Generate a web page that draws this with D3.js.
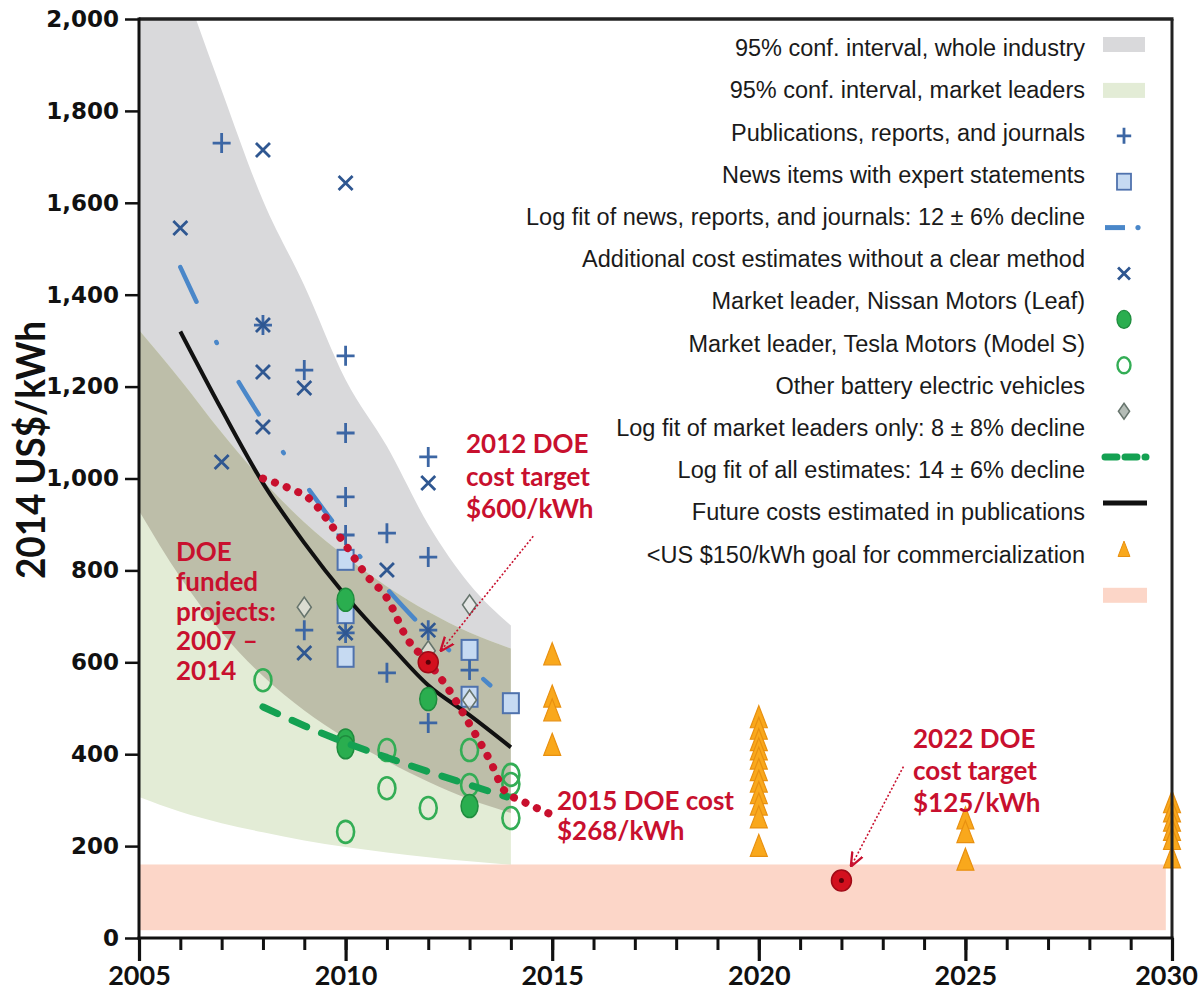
<!DOCTYPE html>
<html><head><meta charset="utf-8">
<script src="https://cdn.jsdelivr.net/npm/d3@7"></script>
<style>body{margin:0;background:#fff;} svg{display:block;}</style>
</head><body>
<svg id="c" width="1200" height="994"></svg>
<script>
// ---------- DATA ----------
const bandYears      = [2005, 2006, 2007, 2008, 2009, 2010, 2011, 2012, 2013, 2014];
const industryUpper  = [2400, 2100, 1845, 1605, 1420, 1215, 1070, 900, 770, 680];
const industryLower  = [930, 785, 665, 570, 495, 435, 385, 340, 302, 272];
const leadersUpper   = [1323, 1215, 1100, 995, 905, 830, 765, 710, 665, 630];
const leadersLower   = [307, 275, 250, 230, 212, 198, 186, 176, 167, 159];
const goalBand       = [17, 160];

const publications = [[2007,1730],[2008,1334],[2009,1236],[2009,670],[2010,1267],[2010,1099],[2010,960],[2010,877],[2010,664],[2011,881],[2011,577],[2012,1047],[2012,829],[2012,670],[2012,468],[2013,583]];
const additional   = [[2006,1545],[2007,1036],[2008,1715],[2008,1334],[2008,1232],[2008,1112],[2009,1197],[2009,620],[2010,1643],[2010,664],[2011,801],[2012,990],[2012,670]];
const newsItems    = [[2010,823],[2010,707],[2010,612],[2013,627],[2013,525],[2014,511]];
const nissan       = [[2010,736],[2010,430],[2010,415],[2012,520],[2013,287]];
const tesla        = [[2008,561],[2010,231],[2011,409],[2011,326],[2012,283],[2013,409],[2013,333],[2014,355],[2014,335],[2014,261]];
const otherBEV     = [[2009,720],[2012,625],[2013,725],[2013,518]];
const futureCosts  = [[2015,612],[2015,520],[2015,490],[2015,415],
  [2020,475],[2020,450],[2020,425],[2020,405],[2020,385],[2020,360],[2020,335],[2020,310],[2020,285],[2020,257],[2020,195],
  [2025,255],[2025,225],[2025,165],
  [2030,290],[2030,270],[2030,250],[2030,230],[2030,210],[2030,170]];

const newsFit    = [[2006,1460],[2007,1275],[2008,1125],[2009,990],[2010,870],[2011,760],[2012,665],[2013,590],[2013.5,550]];
const allFit     = [[2006,1320],[2007,1150],[2008,990],[2009,860],[2010,745],[2011,645],[2012,550],[2013,485],[2014,415]];
const leadersFit = [[2008,503],[2009,462],[2010,425],[2011,393],[2012,362],[2013,333],[2013.9,307]];
const doeFunded  = [[2008,1000],[2008.6,980],[2009.2,950],[2009.6,905],[2010,855],[2010.5,790],[2011,740],[2011.5,650],[2012,600],[2012.5,540],[2013,465],[2013.5,385],[2013.85,320],[2014.3,297],[2015,268]];
const doeTargets = [[2012,600],[2022,125]];

const yTicks = [0,200,400,600,800,1000,1200,1400,1600,1800,2000];
const xMajor = [2005,2010,2015,2020,2025,2030];
const xMinor = d3.range(2005, 2031);

const legendLabels = [
  "95% conf. interval, whole industry",
  "95% conf. interval, market leaders",
  "Publications, reports, and journals",
  "News items with expert statements",
  "Log fit of news, reports, and journals: 12 \u00B1 6% decline",
  "Additional cost estimates without a clear method",
  "Market leader, Nissan Motors (Leaf)",
  "Market leader, Tesla Motors (Model S)",
  "Other battery electric vehicles",
  "Log fit of market leaders only: 8 \u00B1 8% decline",
  "Log fit of all estimates: 14 \u00B1 6% decline",
  "Future costs estimated in publications",
  "<US $150/kWh goal for commercialization"
];

// ---------- STYLE ----------
const C = {
  gray:"#d9d9db", green:"#e3ecd6", olive:"#bdbea9", pink:"#fcd6c8",
  blue:"#3c66a4", blueDark:"#2f5791", sqFill:"#c6daf2", sqStroke:"#4f72ad",
  fitBlue:"#4a87c9", green2:"#2aae4f", green2s:"#1f8c3e", ring:"#33ad55",
  diaStroke:"#66746c", tri:"#f9a81c", triS:"#e89010", red:"#c8102e", black:"#111"
};

const svg = d3.select("#c");
const L=139, R=1172, T=19, B=938;
const x = d3.scaleLinear().domain([2005,2030]).range([L,R]);
const y = d3.scaleLinear().domain([0,2000]).range([B,T]);

const defs = svg.append("defs");
defs.append("clipPath").attr("id","plot").append("rect").attr("x",L).attr("y",T).attr("width",R-L).attr("height",B-T);

const bandInd = bandYears.map((yr,i)=>({yr, lo:industryLower[i], hi:industryUpper[i]}));
const bandLead = bandYears.map((yr,i)=>({yr, lo:leadersLower[i], hi:leadersUpper[i]}));
const area = d3.area().x(d=>x(d.yr)).y0(d=>y(d.lo)).y1(d=>y(d.hi)).curve(d3.curveMonotoneX);

defs.append("clipPath").attr("id","indClip").append("path").attr("d", area(bandInd));

const plot = svg.append("g").attr("clip-path","url(#plot)");
plot.append("path").attr("d", area(bandInd)).attr("fill", C.gray);
plot.append("path").attr("d", area(bandLead)).attr("fill", C.green);
plot.append("g").attr("clip-path","url(#indClip)").append("path").attr("d", area(bandLead)).attr("fill", C.olive);

// goal band
plot.append("rect").attr("x", x(2005)).attr("width", x(2029.85)-x(2005))
  .attr("y", y(goalBand[1])).attr("height", y(goalBand[0])-y(goalBand[1])).attr("fill", C.pink);

// ---------- marker helpers ----------
const plusPath = (cx,cy,s=1)=>`M${cx-9*s},${cy}h${18*s}M${cx},${cy-10*s}v${20*s}`;
const crossPath = (cx,cy,s=1)=>`M${cx-7*s},${cy-7*s}l${14*s},${14*s}M${cx+7*s},${cy-7*s}l${-14*s},${14*s}`;
const diaPath = (cx,cy,s=1)=>`M${cx},${cy-10*s}L${cx+7*s},${cy}L${cx},${cy+10*s}L${cx-7*s},${cy}Z`;
const triPath = (cx,cy,s=1)=>`M${cx},${cy-14*s}L${cx+8.5*s},${cy+8*s}L${cx-8.5*s},${cy+8*s}Z`;

const gm = svg.append("g");
const line = d3.line().x(d=>x(d[0])).y(d=>y(d[1])).curve(d3.curveMonotoneX);

gm.selectAll(".sq").data(newsItems).join("rect")
  .attr("x",d=>x(d[0])-8).attr("y",d=>y(d[1])-10).attr("width",16).attr("height",20)
  .attr("fill",C.sqFill).attr("stroke",C.sqStroke).attr("stroke-width",2);

gm.selectAll(".dia").data(otherBEV).join("path")
  .attr("d",d=>diaPath(x(d[0]),y(d[1]))).attr("fill","#eef0ec").attr("fill-opacity",0.6)
  .attr("stroke",C.diaStroke).attr("stroke-width",1.6);

gm.selectAll(".pl").data(publications).join("path")
  .attr("d",d=>plusPath(x(d[0]),y(d[1]))).attr("stroke",C.blue).attr("stroke-width",2.8).attr("fill","none");

gm.selectAll(".cr").data(additional).join("path")
  .attr("d",d=>crossPath(x(d[0]),y(d[1]))).attr("stroke",C.blueDark).attr("stroke-width",2.8).attr("fill","none");

// news fit dash-dot
gm.append("path").attr("d", line(newsFit)).attr("fill","none").attr("stroke",C.fitBlue)
  .attr("stroke-width",4.5).attr("stroke-linecap","round").attr("stroke-dasharray","38,45,1,45");

gm.append("path").attr("d", line(allFit)).attr("fill","none").attr("stroke",C.black).attr("stroke-width",4);

gm.selectAll(".ring").data(tesla).join("ellipse")
  .attr("cx",d=>x(d[0])).attr("cy",d=>y(d[1])).attr("rx",8.5).attr("ry",11)
  .attr("fill","none").attr("stroke",C.ring).attr("stroke-width",2.6);

gm.selectAll(".nis").data(nissan).join("ellipse")
  .attr("cx",d=>x(d[0])).attr("cy",d=>y(d[1])).attr("rx",8.5).attr("ry",11.5)
  .attr("fill",C.green2).attr("stroke",C.green2s).attr("stroke-width",1.5);

gm.append("path").attr("d", line(leadersFit)).attr("fill","none").attr("stroke","#14a152")
  .attr("stroke-width",7).attr("stroke-linecap","round").attr("stroke-dasharray","16,16");

gm.selectAll(".tri").data(futureCosts).join("path")
  .attr("d",d=>triPath(x(d[0]),y(d[1]))).attr("fill",C.tri).attr("stroke",C.triS).attr("stroke-width",1.2);

// DOE funded dotted red line
gm.append("path").attr("d", line(doeFunded))
  .attr("fill","none").attr("stroke",C.red).attr("stroke-width",8)
  .attr("stroke-linecap","round").attr("stroke-dasharray","0.1,12.5");

// DOE targets
gm.selectAll(".tgt").data(doeTargets).join("g").each(function(d){
  const g=d3.select(this), cx=x(d[0]), cy=y(d[1]);
  g.append("ellipse").attr("cx",cx).attr("cy",cy).attr("rx",10).attr("ry",10.5).attr("fill","#d3101e").attr("stroke","#a00a16").attr("stroke-width",1.5);
  g.append("circle").attr("cx",cx).attr("cy",cy).attr("r",2.5).attr("fill","#5a0008");
});

// arrows
defs.append("marker").attr("id","arr").attr("viewBox","0 0 10 10").attr("refX",9).attr("refY",5)
  .attr("markerWidth",9).attr("markerHeight",9).attr("orient","auto-start-reverse")
  .append("path").attr("d","M0,1L10,5L0,9").attr("fill","none").attr("stroke",C.red).attr("stroke-width",1.6);
const arrows = [
  {x1:x(2012)+105, y1:y(600)-126, x2:x(2012)+13, y2:y(600)-12},
  {x1:x(2022)+62, y1:y(125)-114, x2:x(2022)+10, y2:y(125)-15}
];
gm.selectAll(".arrow").data(arrows).join("line")
  .attr("x1",d=>d.x1).attr("y1",d=>d.y1).attr("x2",d=>d.x2).attr("y2",d=>d.y2)
  .attr("stroke",C.red).attr("stroke-width",1.6).attr("stroke-dasharray","2,2").attr("marker-end","url(#arr)");

// annotations
const ann = [
  {x:466, y:453, lines:["2012 DOE","cost target","$600/kWh"], dy:32.5},
  {x:176, y:561, lines:["DOE","funded","projects:","2007 \u2013","2014"], dy:29.8},
  {x:557, y:810, lines:["2015 DOE cost","$268/kWh"], dy:30},
  {x:913, y:748, lines:["2022 DOE","cost target","$125/kWh"], dy:32}
];
ann.forEach(a=>{
  const t = svg.append("text").attr("x",a.x).attr("y",a.y).attr("fill",C.red)
    .attr("font-family","Lato, 'Open Sans', sans-serif").attr("font-weight","bold").attr("font-size",26);
  a.lines.forEach((l,i)=>t.append("tspan").attr("x",a.x).attr("y",a.y+i*a.dy).text(l));
});

// ---------- AXES ----------
const ax = svg.append("g");
ax.append("line").attr("x1",L).attr("x2",R+1.5).attr("y1",T).attr("y2",T).attr("stroke","#222").attr("stroke-width",3.5);
ax.append("line").attr("x1",R).attr("x2",R).attr("y1",T).attr("y2",B).attr("stroke","#222").attr("stroke-width",3);

const yAxis = ax.append("g").attr("transform",`translate(${L},0)`)
  .call(d3.axisLeft(y).tickValues(yTicks).tickFormat(d3.format(",")).tickSize(14).tickPadding(6));
yAxis.select(".domain").attr("stroke","#111").attr("stroke-width",3).attr("d",`M0,${T-1.5}V${B+1.5}`);
yAxis.selectAll(".tick line").attr("stroke","#111").attr("stroke-width",2.5);
yAxis.selectAll(".tick text").attr("font-family","'DejaVu Sans', Verdana, sans-serif").attr("font-weight","bold")
  .attr("font-size",23).attr("fill","#111");

const xMin = ax.append("g").attr("transform",`translate(0,${B})`)
  .call(d3.axisBottom(x).tickValues(xMinor).tickSize(12).tickFormat(""));
xMin.select(".domain").remove();
xMin.selectAll(".tick line").attr("stroke","#111").attr("stroke-width",3);
const xAx = ax.append("g").attr("transform",`translate(0,${B})`)
  .call(d3.axisBottom(x).tickValues(xMajor).tickSize(23).tickPadding(5).tickFormat(d3.format("d")));
xAx.select(".domain").attr("stroke","#111").attr("stroke-width",3).attr("d",`M${L-1.5},0H${R+1.5}`);
xAx.selectAll(".tick line").attr("stroke","#111").attr("stroke-width",3.2);
xAx.selectAll(".tick text").attr("font-family","Lato, 'Open Sans', sans-serif").attr("font-weight","bold")
  .attr("font-size",27).attr("fill","#111")
  .attr("dx", d => d === 2030 ? -6 : 0);

svg.append("text").attr("transform","translate(30,450) rotate(-90)")
  .attr("text-anchor","middle").attr("dominant-baseline","central")
  .attr("font-family","Lato, 'Open Sans', sans-serif").attr("font-weight","bold").attr("font-size",40)
  .attr("textLength",258).attr("lengthAdjust","spacingAndGlyphs").attr("fill","#111").text("2014 US$/kWh");

// ---------- LEGEND ----------
const lg = svg.append("g");
const textY0 = 48, textDy = 42.2;
lg.selectAll("text").data(legendLabels).join("text")
  .attr("x",1085).attr("y",(d,i)=>textY0 + i*textDy).attr("dy","0.35em")
  .attr("text-anchor","end").attr("font-family","'Liberation Sans', Arial, sans-serif")
  .attr("font-size",23.5).attr("fill","#1a1a1a").text(d=>d);

const symY0 = 44, symDy = 45.9, sx = 1124;
const sy = i => symY0 + i*symDy;
lg.append("rect").attr("x",sx-21).attr("y",sy(0)-7).attr("width",42).attr("height",15).attr("fill",C.gray);
lg.append("rect").attr("x",sx-21).attr("y",sy(1)-7).attr("width",42).attr("height",15).attr("fill",C.green);
lg.append("path").attr("d",plusPath(sx,sy(2),0.8)).attr("stroke",C.blue).attr("stroke-width",2.8);
lg.append("rect").attr("x",sx-7).attr("y",sy(3)-8).attr("width",14).attr("height",16).attr("fill",C.sqFill).attr("stroke",C.sqStroke).attr("stroke-width",1.8);
lg.append("line").attr("x1",sx-19).attr("x2",sx+1).attr("y1",sy(4)).attr("y2",sy(4)).attr("stroke",C.fitBlue).attr("stroke-width",5);
lg.append("circle").attr("cx",sx+14).attr("cy",sy(4)).attr("r",2.6).attr("fill",C.fitBlue);
lg.append("path").attr("d",crossPath(sx,sy(5),0.85)).attr("stroke",C.blueDark).attr("stroke-width",2.8);
lg.append("ellipse").attr("cx",sx).attr("cy",sy(6)).attr("rx",7).attr("ry",9).attr("fill",C.green2).attr("stroke",C.green2s).attr("stroke-width",1.3);
lg.append("ellipse").attr("cx",sx).attr("cy",sy(7)).attr("rx",6.5).attr("ry",8).attr("fill","none").attr("stroke",C.ring).attr("stroke-width",2.4);
lg.append("path").attr("d",diaPath(sx,sy(8),0.8)).attr("fill","#b4bcb6").attr("stroke",C.diaStroke).attr("stroke-width",1.5);
lg.append("line").attr("x1",sx-19).attr("x2",sx+22).attr("y1",sy(9)).attr("y2",sy(9)).attr("stroke","#14a152").attr("stroke-width",7).attr("stroke-linecap","round").attr("stroke-dasharray","12,8");
lg.append("line").attr("x1",sx-21).attr("x2",sx+23).attr("y1",sy(10)).attr("y2",sy(10)).attr("stroke",C.black).attr("stroke-width",5);
lg.append("path").attr("d",triPath(sx,sy(11)+2,0.7)).attr("fill",C.tri).attr("stroke",C.triS).attr("stroke-width",1);
lg.append("rect").attr("x",sx-21).attr("y",sy(12)-7).attr("width",44).attr("height",15).attr("fill",C.pink);
</script>
</body></html>
